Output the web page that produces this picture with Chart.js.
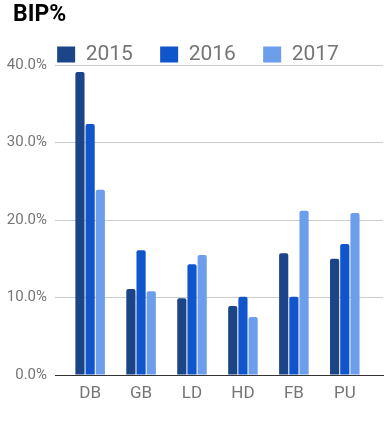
<!DOCTYPE html>
<html>
<head>
<meta charset="utf-8">
<script src="https://cdn.jsdelivr.net/npm/chart.js@4"></script>
<style>
html,body{margin:0;padding:0;background:#fff;}
#wrap{width:389px;height:424px;position:relative;}
</style>
</head>
<body>
<div id="wrap"><canvas id="c" width="389" height="424"></canvas></div>
<script>
const categories = ['DB', 'GB', 'LD', 'HD', 'FB', 'PU'];
const seriesNames = ['2015', '2016', '2017'];
const values2015 = [39.1, 11.1, 9.9, 8.9, 15.7, 15.0];
const values2016 = [32.4, 16.1, 14.3, 10.1, 10.1, 16.9];
const values2017 = [23.9, 10.8, 15.5, 7.5, 21.2, 20.9];
const yTicks = [0, 10, 20, 30, 40];
const colors = ['#1c4587', '#1155cc', '#6d9eeb'];

const allSeries = [values2015, values2016, values2017];
const datasets = allSeries.map((vals, si) => ({
  label: seriesNames[si],
  data: vals.map((v, i) => ({x: i, y: v})),
  backgroundColor: colors[si],
  borderWidth: 0,
  borderRadius: 2,
  borderSkipped: 'start',
  categoryPercentage: 0.6,
  barPercentage: 0.9
}));

// indent title and legend as in the reference (x = 13)
const headerIndent = {
  id: 'headerIndent',
  afterLayout(chart) {
    if (chart.titleBlock) chart.titleBlock.left = 13;
    if (chart.legend) chart.legend.left = 13;
  }
};

new Chart(document.getElementById('c'), {
  type: 'bar',
  data: { datasets },
  plugins: [headerIndent],
  options: {
    responsive: false,
    animation: false,
    layout: { padding: { left: 0, right: 6, top: 0, bottom: 0 } },
    plugins: {
      title: {
        display: true,
        text: 'BIP%',
        align: 'start',
        color: '#000',
        font: { family: 'Roboto', size: 23, weight: 'bold' },
        padding: { top: 1.5, bottom: -12.4 }
      },
      legend: {
        display: true,
        position: 'top',
        align: 'center',
        maxHeight: 48.3,
        labels: {
          boxWidth: 18,
          boxHeight: 16,
          padding: 27.3,
          color: '#757575',
          font: { family: 'Roboto', size: 21 }
        }
      },
      tooltip: { enabled: false }
    },
    scales: {
      x: {
        type: 'linear',
        offset: false,
        min: -0.69,
        max: 5.75,
        grid: { display: false, drawTicks: false },
        border: { display: true, color: '#333', width: 1 },
        afterBuildTicks: s => { s.ticks = categories.map((c, i) => ({ value: i })); },
        afterFit: s => { s.height = 49; },
        ticks: {
          padding: 9,
          color: '#757575',
          font: { family: 'Roboto', size: 17 },
          callback: v => categories[v]
        }
      },
      y: {
        min: yTicks[0],
        max: yTicks[yTicks.length - 1],
        afterBuildTicks: s => { s.ticks = yTicks.map(v => ({ value: v })); },
        afterFit: s => { s.width = 55; },
        grid: { color: '#cccccc', drawTicks: false },
        border: { display: false },
        ticks: {
          padding: 8,
          color: '#757575',
          font: { family: 'Roboto', size: 15 },
          callback: v => v.toFixed(1) + '%'
        }
      }
    }
  }
});
</script>
</body>
</html>
